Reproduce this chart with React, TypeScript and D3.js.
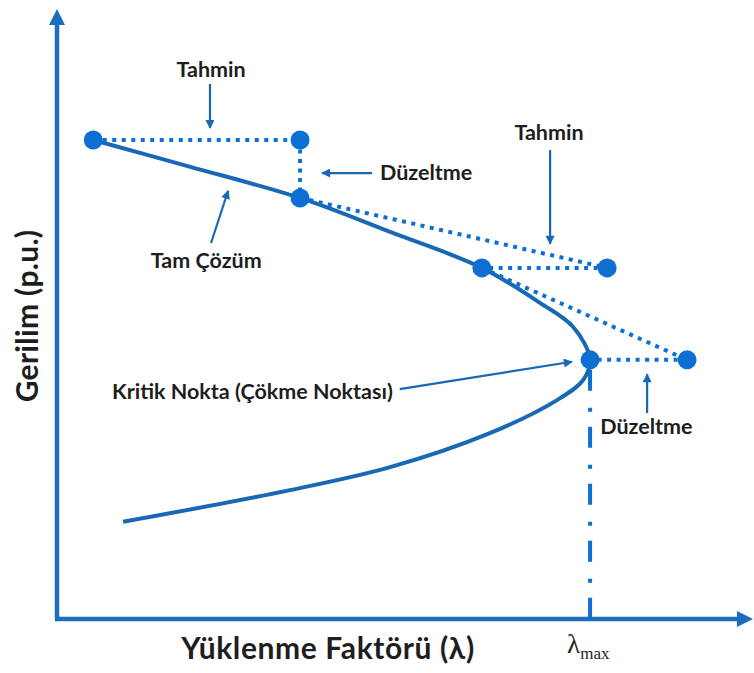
import React from 'react';
import * as d3 from 'd3';

// exact solution curve (load factor vs voltage), traced along the path: upper branch -> nose -> lower branch
const curveLambda = [0.068, 0.25, 0.456, 0.625, 0.797, 0.906, 0.968, 1.0, 0.987, 0.938, 0.812, 0.625, 0.437, 0.124];
const curveVoltage = [1.0, 0.944, 0.879, 0.808, 0.733, 0.66, 0.61, 0.541, 0.499, 0.457, 0.388, 0.317, 0.269, 0.203];

// corrected (solution) points and predicted points of the continuation steps
const solLambda = [0.068, 0.456, 0.797, 1.0];
const solVoltage = [1.0, 0.879, 0.733, 0.541];
const predLambda = [0.456, 1.032, 1.182];
const predVoltage = [1.0, 0.733, 0.541];

const lambdaMax = 1.0;

// annotation labels: [text, lambda, voltage, anchor]
const labelText = ['Tahmin', 'Düzeltme', 'Tam Çözüm', 'Tahmin', 'Kritik Nokta (Çökme Noktası)', 'Düzeltme'];
const labelLambda = [0.289, 0.606, 0.28, 0.923, 0.63, 1.019];
const labelVoltage = [1.132, 0.916, 0.733, 1.0, 0.459, 0.386];
const labelAnchor = ['middle', 'start', 'middle', 'middle', 'end', 'start'];

// annotation arrows: from (lambda, voltage) to (lambda, voltage)
const arrowFromLambda = [0.287, 0.591, 0.289, 0.925, 0.643, 1.107];
const arrowFromVoltage = [1.117, 0.931, 0.785, 0.979, 0.48, 0.43];
const arrowToLambda = [0.287, 0.497, 0.321, 0.925, 0.966, 1.107];
const arrowToVoltage = [1.025, 0.931, 0.894, 0.783, 0.537, 0.511];

const W = 754;
const H = 673;
const x = d3.scaleLinear().domain([0, 1.3]).range([57, 750]);
const y = d3.scaleLinear().domain([0, 1]).range([619, 140]);

const AXIS = '#1b6dbd';
const CURVE = '#1968b5';
const DOT = '#0d6fd1';
const TEXT = '#1e1e1e';
const FONT = 'Lato, "Open Sans", sans-serif';

export default function App() {
  const curvePts = curveLambda.map((l, i) => [x(l), y(curveVoltage[i])] as [number, number]);
  const curvePath = d3.line().curve(d3.curveCatmullRom.alpha(0.5))(curvePts) || '';

  const x0 = x(0);
  const y0 = y(0);
  const yTop = 9;
  const xEnd = 753;

  // dotted predictor / corrector segments
  const segs: { x1: number; y1: number; x2: number; y2: number }[] = [];
  predLambda.forEach((l, i) => {
    // predictor: tangent from previous solution
    segs.push({ x1: x(solLambda[i]), y1: y(solVoltage[i]), x2: x(l), y2: y(predVoltage[i]) });
    // corrector: back to the curve
    segs.push({ x1: x(l), y1: y(predVoltage[i]), x2: x(solLambda[i + 1]), y2: y(solVoltage[i + 1]) });
  });

  const critIdx = solLambda.indexOf(lambdaMax);
  const critY = y(solVoltage[critIdx]);

  return (
    <svg width={W} height={H} style={{ position: 'absolute', left: 0, top: 0, background: '#fff' }}>
      <defs>
        <marker id="ah" viewBox="0 0 10 10" refX="9" refY="5" markerWidth="11" markerHeight="9"
          markerUnits="userSpaceOnUse" orient="auto">
          <path d="M0,0 L10,5 L0,10 Z" fill={CURVE} />
        </marker>
      </defs>

      {/* axes */}
      <line x1={x0} y1={y0} x2={x0} y2={yTop + 14} stroke={AXIS} strokeWidth={4.5} />
      <path d={`M${x0 - 8},${yTop + 16} L${x0},${yTop} L${x0 + 8},${yTop + 16} Z`} fill={AXIS} />
      <line x1={x0 - 2} y1={y0} x2={xEnd - 14} y2={y0} stroke={AXIS} strokeWidth={4.5} />
      <path d={`M${xEnd - 16},${y0 - 8} L${xEnd},${y0} L${xEnd - 16},${y0 + 8} Z`} fill={AXIS} />

      {/* lambda max dash-dot line */}
      <line x1={x(lambdaMax)} y1={critY + 10} x2={x(lambdaMax)} y2={y0}
        stroke={DOT} strokeWidth={4} strokeDasharray="21 17 4 15" />

      {/* exact solution curve */}
      <path d={curvePath} fill="none" stroke={CURVE} strokeWidth={4} />

      {/* predictor / corrector dotted */}
      {segs.map((s, i) => (
        <line key={i} {...s} stroke={DOT} strokeWidth={4} strokeDasharray="4 5.5" />
      ))}

      {/* points */}
      {solLambda.map((l, i) => (
        <circle key={'s' + i} cx={x(l)} cy={y(solVoltage[i])} r={9.5} fill={DOT} />
      ))}
      {predLambda.map((l, i) => (
        <circle key={'p' + i} cx={x(l)} cy={y(predVoltage[i])} r={9.5} fill={DOT} />
      ))}

      {/* annotation arrows */}
      {arrowFromLambda.map((l, i) => (
        <line key={'a' + i} x1={x(l)} y1={y(arrowFromVoltage[i])} x2={x(arrowToLambda[i])} y2={y(arrowToVoltage[i])}
          stroke={CURVE} strokeWidth={2.2} markerEnd="url(#ah)" />
      ))}

      {/* annotation labels */}
      {labelText.map((t, i) => (
        <text key={'t' + i} x={x(labelLambda[i])} y={y(labelVoltage[i])} textAnchor={labelAnchor[i] as any}
          fontFamily={FONT} fontWeight={700} fontSize={21.5} fill={TEXT}>{t}</text>
      ))}

      {/* axis titles */}
      <text x={328} y={659} textAnchor="middle" fontFamily={FONT} fontWeight={700} fontSize={30}
        letterSpacing={0.6} fill={TEXT}>
        Yüklenme Faktörü (λ)
      </text>
      <text transform="translate(38,316) rotate(-90)" textAnchor="middle" fontFamily={FONT} fontWeight={700}
        fontSize={30} letterSpacing={0.3} fill={TEXT}>
        Gerilim (p.u.)
      </text>
      <text x={x(lambdaMax) - 23} y={653} fontFamily='"Liberation Serif", "DejaVu Serif", serif' fontSize={27} fill={TEXT}>
        λ<tspan fontSize={17} dy={6}>max</tspan>
      </text>
    </svg>
  );
}
